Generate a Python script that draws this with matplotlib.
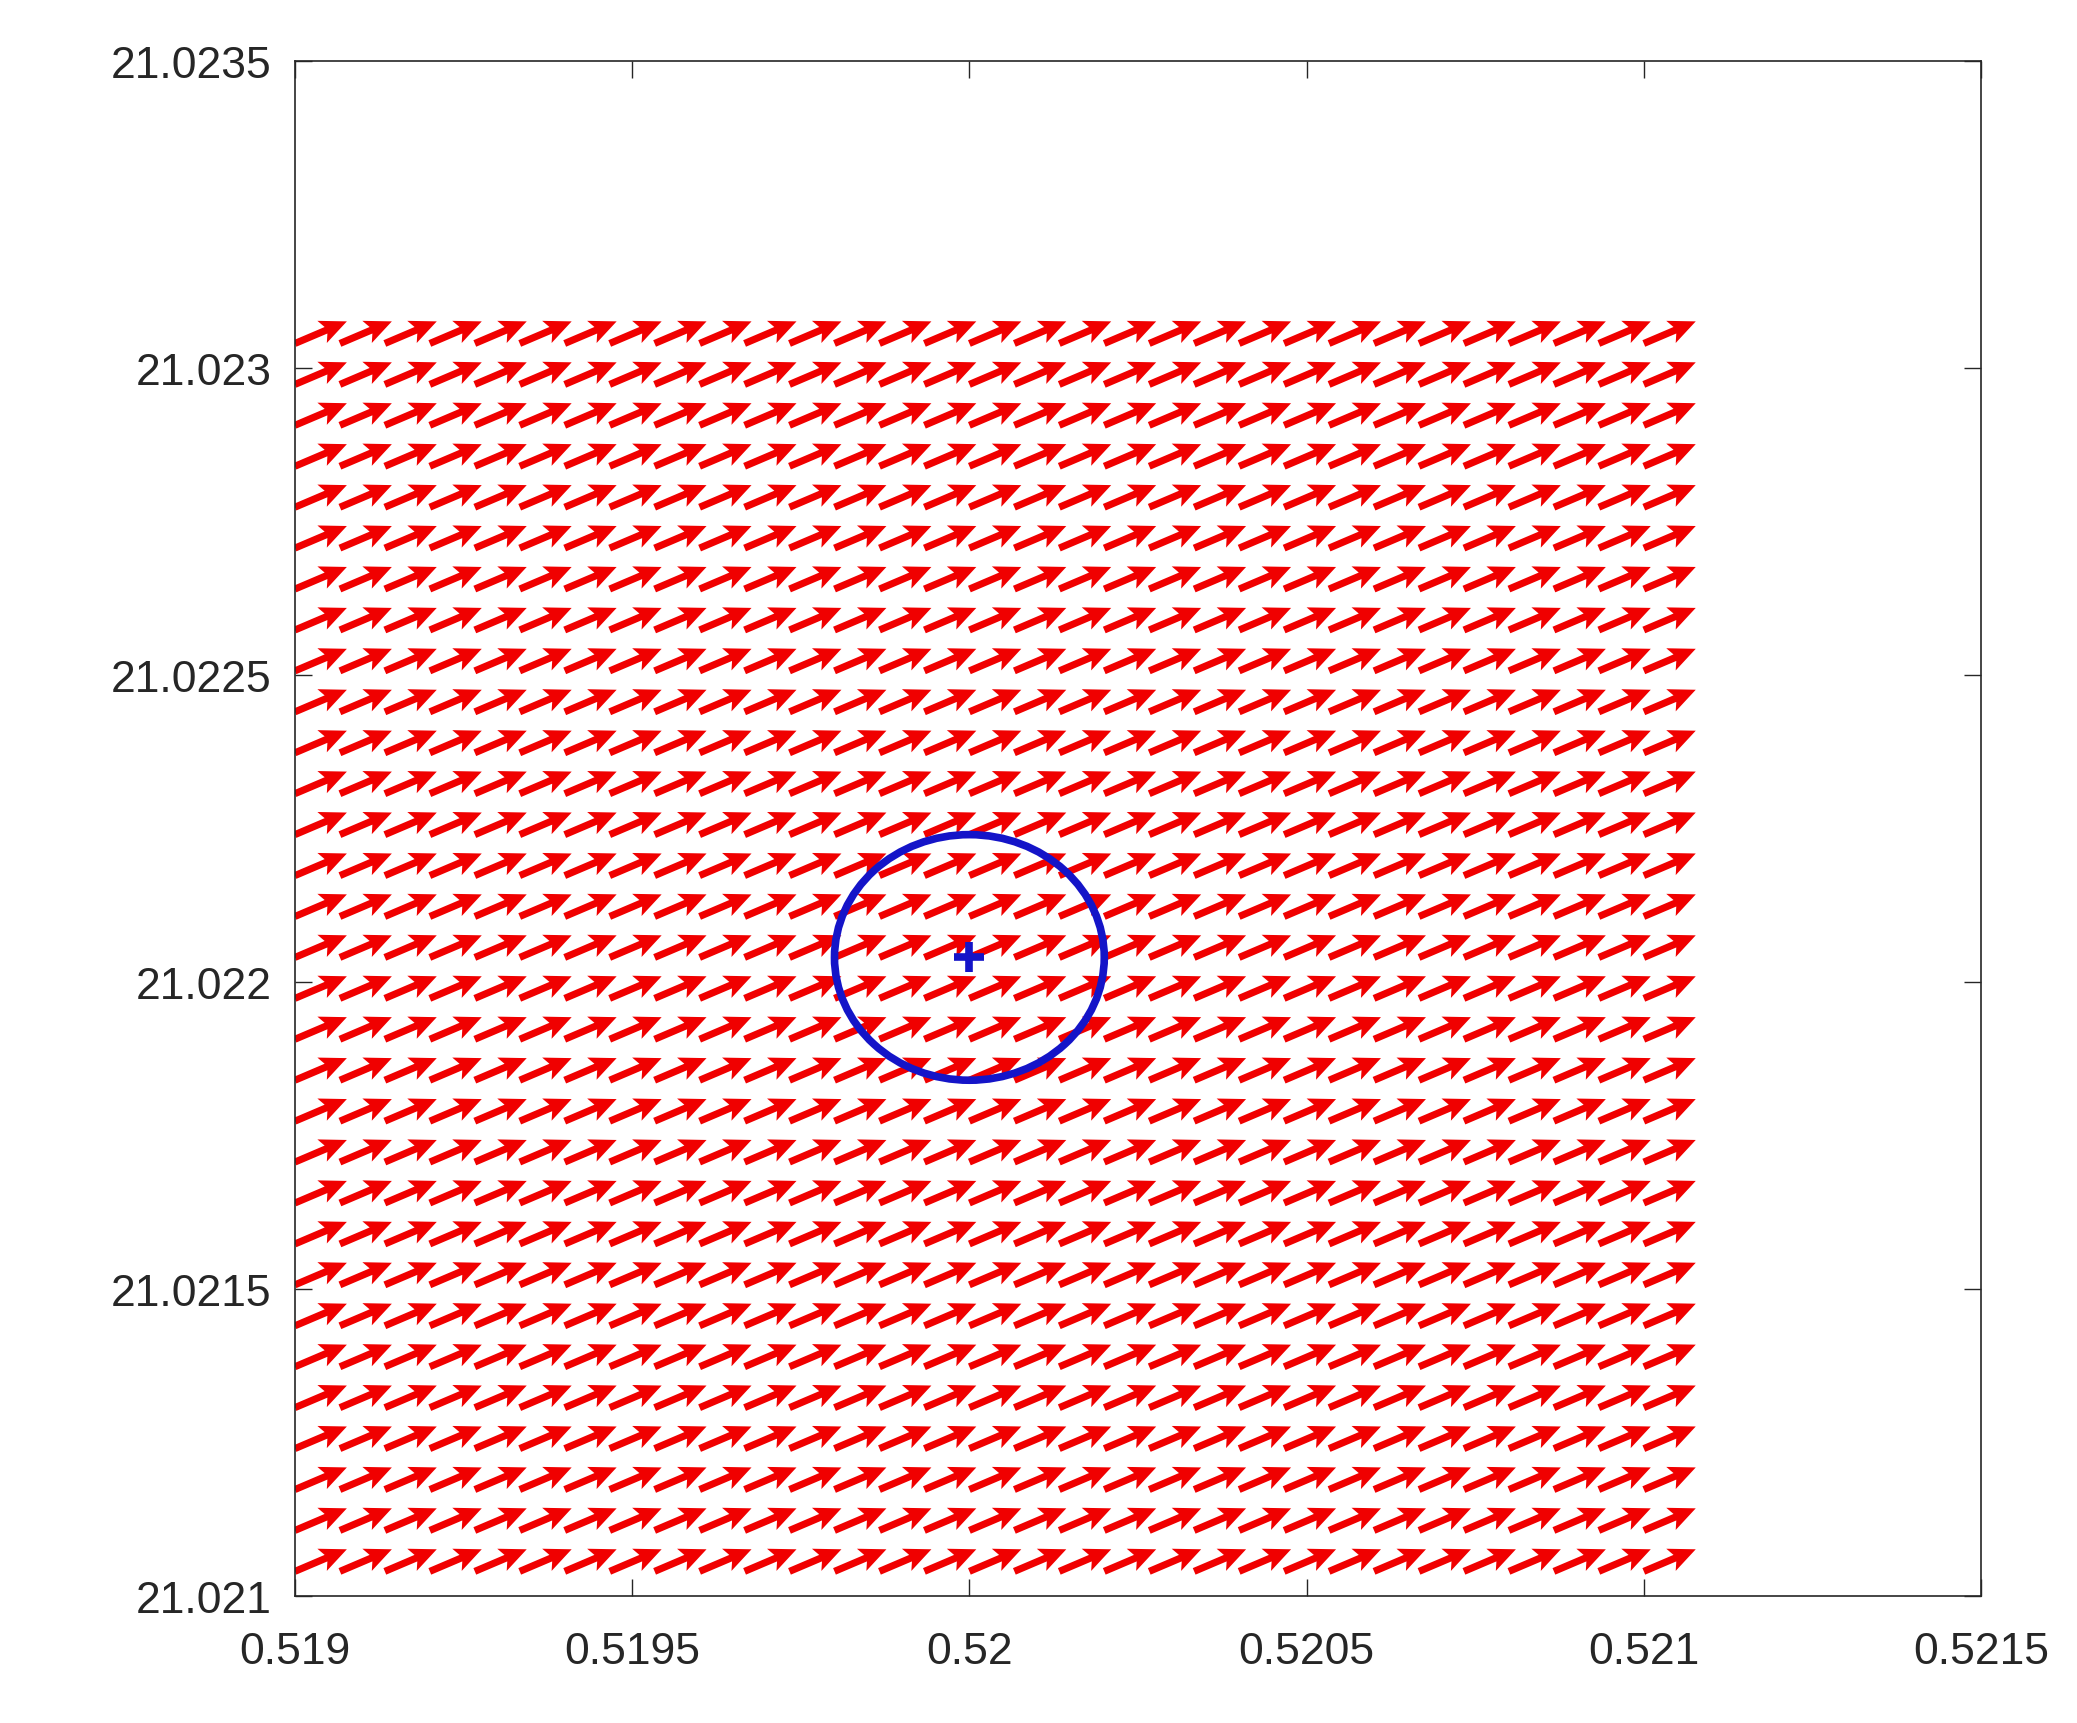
import matplotlib
matplotlib.use('Agg')
import matplotlib.pyplot as plt
from matplotlib.patches import Ellipse
import numpy as np

###############################################################################
## Data
###############################################################################

# grid of arrow tails
x_pos = [0.519, 0.5190667, 0.5191333, 0.5192, 0.5192667, 0.5193333, 0.5194,
         0.5194667, 0.5195333, 0.5196, 0.5196667, 0.5197333, 0.5198,
         0.5198667, 0.5199333, 0.52, 0.5200667, 0.5201333, 0.5202,
         0.5202667, 0.5203333, 0.5204, 0.5204667, 0.5205333, 0.5206,
         0.5206667, 0.5207333, 0.5208, 0.5208667, 0.5209333, 0.521]
y_pos = [21.02104, 21.0211067, 21.0211733, 21.02124, 21.0213067, 21.0213733,
         21.02144, 21.0215067, 21.0215733, 21.02164, 21.0217067, 21.0217733,
         21.02184, 21.0219067, 21.0219733, 21.02204, 21.0221067, 21.0221733,
         21.02224, 21.0223067, 21.0223733, 21.02244, 21.0225067, 21.0225733,
         21.02264, 21.0227067, 21.0227733, 21.02284, 21.0229067, 21.0229733,
         21.02304]

# uniform field vector (data units)
u_val = 7.7e-5
v_val = 3.6e-5

# station and its radius
centre = (0.52, 21.02204)
radius = 0.0002

x_ticks = [0.519, 0.5195, 0.52, 0.5205, 0.521, 0.5215]
x_labels = ['0.519', '0.5195', '0.52', '0.5205', '0.521', '0.5215']
y_ticks = [21.021, 21.0215, 21.022, 21.0225, 21.023, 21.0235]
y_labels = ['21.021', '21.0215', '21.022', '21.0225', '21.023', '21.0235']

###############################################################################
## Plot
###############################################################################

plt.rcParams['font.family'] = ['Liberation Sans', 'DejaVu Sans']
txt_col = '#262626'

fig = plt.figure(figsize=(20.77, 17.24), dpi=100)
ax = fig.add_axes([0.142, 0.0737, 0.8118, 0.8903])

X, Y = np.meshgrid(x_pos, y_pos)
U = np.full(X.shape, u_val)
V = np.full(X.shape, v_val)
ax.quiver(X, Y, U, V, color='#f00000', angles='xy', scale_units='xy', scale=1,
          width=0.0042, headwidth=3.4, headlength=3.8, headaxislength=3.2,
          zorder=2)

ax.add_patch(Ellipse(centre, 2 * radius, 2 * radius, fill=False,
                     edgecolor='#1414c8', linewidth=5.5, zorder=3))
ax.plot(centre[0], centre[1], '+', color='#1414c8', markersize=22,
        markeredgewidth=5.5, zorder=4)

ax.set_xlim(0.519, 0.5215)
ax.set_ylim(21.021, 21.0235)
ax.set_xticks(x_ticks)
ax.set_xticklabels(x_labels)
ax.set_yticks(y_ticks)
ax.set_yticklabels(y_labels)

ax.tick_params(direction='in', length=12, width=1, colors=txt_col,
               labelsize=32, top=True, right=True)
ax.tick_params(axis='x', pad=25)
ax.tick_params(axis='y', pad=17)
for s in ax.spines.values():
    s.set_color(txt_col)
    s.set_linewidth(1.2)

fig.savefig('out.png', dpi=100, facecolor='white')
